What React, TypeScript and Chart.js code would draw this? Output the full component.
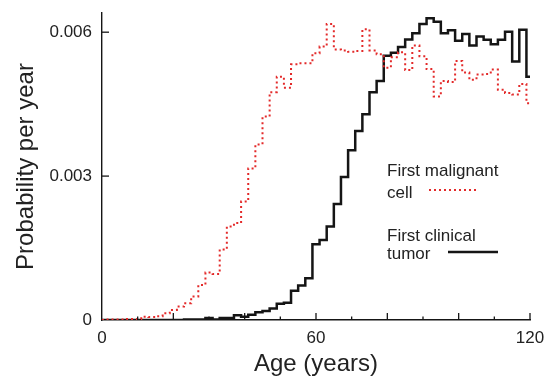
import React, { useEffect, useRef } from "react";
import { Chart, registerables } from "chart.js";

Chart.register(...registerables);

const ages = [0, 2, 4, 6, 8, 10, 12, 14, 16, 18, 20, 22, 24, 26, 28, 30, 32, 34, 36, 38, 40, 42, 44, 46, 48, 50, 52, 54, 56, 58, 60, 62, 64, 66, 68, 70, 72, 74, 76, 78, 80, 82, 84, 86, 88, 90, 92, 94, 96, 98, 100, 102, 104, 106, 108, 110, 112, 114, 116, 118, 120];

const firstMalignantCell = [
  0, 0.00001, 0.00001, 0.00001, 0.00002, 0.00002, 0.00007, 0.00006, 0.00008, 0.00014,
  0.00021, 0.00028, 0.00035, 0.00049, 0.00073, 0.00099, 0.00096, 0.00147, 0.00195, 0.00202,
  0.00247, 0.00316, 0.00366, 0.00424, 0.00475, 0.00507, 0.00484, 0.00533, 0.00535, 0.00535,
  0.00556, 0.0057, 0.00617, 0.00564, 0.00562, 0.00559, 0.00561, 0.00606, 0.00562, 0.00554,
  0.00526, 0.00548, 0.00558, 0.00521, 0.00572, 0.0055, 0.00523, 0.00466, 0.00498, 0.00496,
  0.0054, 0.00516, 0.00501, 0.00512, 0.00513, 0.00522, 0.0048, 0.00473, 0.0047, 0.00492,
  0.00452,
];

const firstClinicalTumor = [
  0, 0, 0, 0, 0, 0, 0, 0, 0, 0,
  0, 0, 0.00001, 0.00001, 0.00001, 0.00004, 0.00001, 0.00004, 0.00004, 0.0001,
  0.00007, 0.00011, 0.00016, 0.00019, 0.00024, 0.00034, 0.00036, 0.00061, 0.00072, 0.00087,
  0.00158, 0.00167, 0.00195, 0.00242, 0.00298, 0.00354, 0.00394, 0.00429, 0.00475, 0.00498,
  0.00551, 0.00557, 0.00569, 0.00585, 0.00598, 0.00617, 0.00629, 0.00622, 0.00598, 0.00604,
  0.00582, 0.00596, 0.00572, 0.00591, 0.00584, 0.00575, 0.00584, 0.00601, 0.00539, 0.00605,
  0.00507,
];

const xTickLabels = [0, 60, 120];
const yTickValues = [0, 0.003, 0.006];
const yTickLabels = ["0", "0.003", "0.006"];

const legendMalignant = ["First malignant", "cell"];
const legendTumor = ["First clinical", "tumor"];

const FONT = "'Liberation Sans', Arial, Helvetica, sans-serif";
const RED = "#e32a2a";
const BLACK = "#151515";
const TEXT = "#222222";

const zeroPad = (s: any) => {
  s.paddingTop = 0;
  s.paddingBottom = 0;
  s.paddingLeft = 0;
  s.paddingRight = 0;
};

const tickPlugin = {
  id: "innerTicks",
  afterDraw(chart: any) {
    const { ctx, chartArea, scales } = chart;
    const xs = scales.x;
    const ys = scales.y;
    ctx.save();
    ctx.strokeStyle = BLACK;
    ctx.lineWidth = 1.3;
    xs.ticks.forEach((t: any) => {
      if (t.value === 0) return;
      const px = xs.getPixelForValue(t.value);
      const len = t.value % 20 === 0 ? 7 : 3.5;
      ctx.beginPath();
      ctx.moveTo(px, chartArea.bottom);
      ctx.lineTo(px, chartArea.bottom - len);
      ctx.stroke();
    });
    ys.ticks.forEach((t: any) => {
      if (t.value === 0) return;
      const py = ys.getPixelForValue(t.value);
      ctx.beginPath();
      ctx.moveTo(chartArea.left, py);
      ctx.lineTo(chartArea.left + 7, py);
      ctx.stroke();
    });
    ctx.restore();
  },
};

const legendPlugin = {
  id: "customLegend",
  afterDraw(chart: any) {
    const { ctx } = chart;
    ctx.save();
    ctx.font = `17px ${FONT}`;
    ctx.fillStyle = TEXT;
    ctx.textBaseline = "alphabetic";
    ctx.textAlign = "left";
    const lx = 387;
    ctx.fillText(legendMalignant[0], lx, 176);
    ctx.fillText(legendMalignant[1], lx, 198);
    ctx.fillText(legendTumor[0], lx, 241);
    ctx.fillText(legendTumor[1], lx, 259);

    ctx.strokeStyle = RED;
    ctx.lineWidth = 2;
    ctx.setLineDash([2, 3]);
    ctx.beginPath();
    ctx.moveTo(429, 190);
    ctx.lineTo(478, 190);
    ctx.stroke();

    ctx.setLineDash([]);
    ctx.strokeStyle = BLACK;
    ctx.lineWidth = 2.5;
    ctx.beginPath();
    ctx.moveTo(448, 252);
    ctx.lineTo(498, 252);
    ctx.stroke();
    ctx.restore();
  },
};

export default function App() {
  const canvasRef = useRef<HTMLCanvasElement | null>(null);

  useEffect(() => {
    document.body.style.margin = "0";
    const canvas = canvasRef.current;
    if (!canvas) return;
    const chart = new Chart(canvas, {
      type: "line",
      data: {
        datasets: [
          {
            label: "First malignant cell",
            data: ages.map((a, i) => ({ x: a, y: firstMalignantCell[i] })),
            borderColor: RED,
            borderWidth: 2,
            borderDash: [2, 3],
            stepped: "middle",
            pointRadius: 0,
            fill: false,
          },
          {
            label: "First clinical tumor",
            data: ages.map((a, i) => ({ x: a, y: firstClinicalTumor[i] })),
            borderColor: BLACK,
            borderWidth: 2.5,
            stepped: "middle",
            pointRadius: 0,
            fill: false,
          },
        ],
      },
      options: {
        animation: false,
        responsive: false,
        maintainAspectRatio: false,
        layout: { padding: { top: 13, right: 16, left: 0, bottom: 0 } },
        plugins: { legend: { display: false }, tooltip: { enabled: false } },
        scales: {
          x: {
            type: "linear",
            min: 0,
            max: 120,
            border: { display: true, color: BLACK, width: 1.4 },
            grid: { display: false, drawTicks: false },
            ticks: {
              stepSize: 10,
              autoSkip: false,
              maxRotation: 0,
              padding: 8,
              color: TEXT,
              font: { family: FONT, size: 17 },
              callback: (v: any) => (xTickLabels.includes(Number(v)) ? String(v) : ""),
            },
            title: {
              display: true,
              text: "Age (years)",
              color: TEXT,
              font: { family: FONT, size: 24 },
              padding: { top: 0, bottom: 0 },
            },
            afterFit: (s: any) => {
              s.height = 59;
              zeroPad(s);
            },
          },
          y: {
            type: "linear",
            min: 0,
            max: 0.0064,
            border: { display: true, color: BLACK, width: 1.4 },
            grid: { display: false, drawTicks: false },
            afterBuildTicks: (s: any) => {
              s.ticks = yTickValues.map((v) => ({ value: v }));
            },
            ticks: {
              padding: 10,
              color: TEXT,
              font: { family: FONT, size: 17 },
              callback: (v: any) => {
                const i = yTickValues.indexOf(Number(v));
                return i >= 0 ? yTickLabels[i] : "";
              },
            },
            title: {
              display: true,
              text: "Probability per year",
              color: TEXT,
              font: { family: FONT, size: 24 },
              padding: { top: 12, bottom: 0 },
            },
            afterFit: (s: any) => {
              s.width = 102;
              zeroPad(s);
            },
          },
        },
      },
      plugins: [tickPlugin, legendPlugin],
    } as any);
    return () => chart.destroy();
  }, []);

  return (
    <div style={{ position: "absolute", left: 0, top: 0, width: 546, height: 379, background: "#fff" }}>
      <canvas ref={canvasRef} width={546} height={379} />
    </div>
  );
}
